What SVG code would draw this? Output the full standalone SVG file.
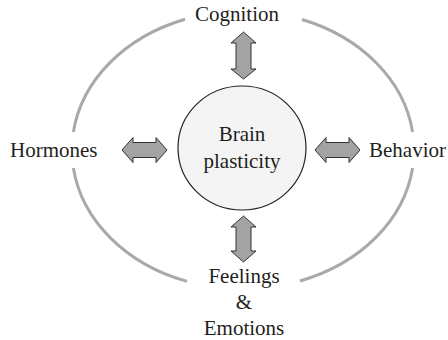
<svg xmlns="http://www.w3.org/2000/svg" width="448" height="340" viewBox="0 0 448 340">
  <style>
    .label { font-family: "Liberation Serif", "Times New Roman", serif; font-size: 21px; fill: #231f20; }
    .ring { fill: none; stroke: #a9a9a9; stroke-width: 3; }
    .arrow { fill: #a3a3a3; stroke: #333; stroke-width: 1; stroke-linejoin: miter; }
    .hub { fill: #f4f4f4; stroke: #222; stroke-width: 1.2; }
  </style>
  <rect width="448" height="340" fill="#ffffff"/>

  <!-- outer ring, broken where the four factor labels sit -->
  <g id="ring">
    <path class="ring" d="M73.4,132 A171,139 0 0 1 185,19.2"/>
    <path class="ring" d="M302,19.5 A171,139 0 0 1 412.6,132"/>
    <path class="ring" d="M412.6,168 A171,139 0 0 1 300,281"/>
    <path class="ring" d="M187,281.4 A171,139 0 0 1 73.4,168"/>
  </g>

  <g id="brain-plasticity">
    <ellipse class="hub" cx="242" cy="148" rx="64" ry="62"/>
    <text class="label" x="242" y="141" text-anchor="middle">Brain</text>
    <text class="label" x="242" y="168" text-anchor="middle">plasticity</text>
  </g>

  <g id="cognition">
    <text class="label" x="237" y="21" text-anchor="middle">Cognition</text>
  </g>

  <g id="hormones">
    <text class="label" x="10" y="157">Hormones</text>
  </g>

  <g id="behavior">
    <text class="label" x="446" y="157" text-anchor="end">Behavior</text>
  </g>

  <g id="feelings-emotions">
    <text class="label" x="244" y="283" text-anchor="middle">Feelings</text>
    <text class="label" x="244" y="309" text-anchor="middle">&amp;</text>
    <text class="label" x="244" y="335" text-anchor="middle">Emotions</text>
  </g>

  <!-- two-headed block arrows between the hub and each factor -->
  <g id="connectors">
    <path class="arrow" d="M243.5,32 L256,43 L251,43 L251,69 L256,69 L243.5,79 L231,69 L236,69 L236,43 L231,43 Z"/>
    <path class="arrow" d="M243.5,216 L256,227 L251,227 L251,251 L256,251 L243.5,262 L231,251 L236,251 L236,227 L231,227 Z"/>
    <path class="arrow" d="M122,150 L133,137.5 L133,142.5 L156,142.5 L156,137.5 L167,150 L156,162.5 L156,157.5 L133,157.5 L133,162.5 Z"/>
    <path class="arrow" d="M315,150 L326,137.5 L326,142.5 L349,142.5 L349,137.5 L360,150 L349,162.5 L349,157.5 L326,157.5 L326,162.5 Z"/>
  </g>
</svg>
